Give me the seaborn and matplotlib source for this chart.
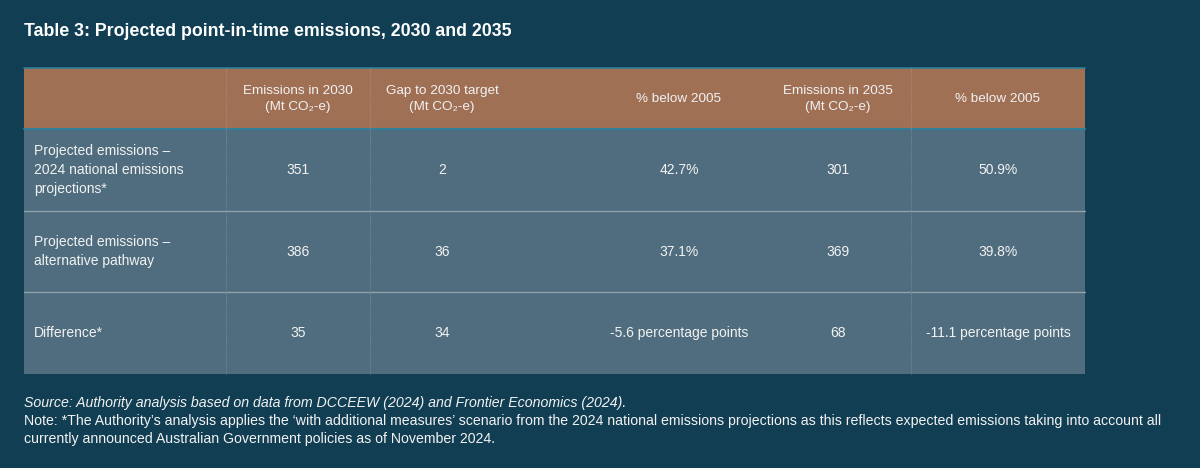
import matplotlib
matplotlib.use("Agg")
import matplotlib.pyplot as plt
import seaborn as sns

# table content
title = "Table 3: Projected point-in-time emissions, 2030 and 2035"
col_headers = ["Emissions in 2030\n(Mt CO\u2082-e)", "Gap to 2030 target\n(Mt CO\u2082-e)",
               "% below 2005", "Emissions in 2035\n(Mt CO\u2082-e)", "% below 2005"]
row_labels = ["Projected emissions \u2013\n2024 national emissions\nprojections*",
              "Projected emissions \u2013\nalternative pathway",
              "Difference*"]
emis_2030 = [351, 386, 35]
gap_2030 = [2, 36, 34]
below_2005_2030 = ["42.7%", "37.1%", "-5.6 percentage points"]
emis_2035 = [301, 369, 68]
below_2005_2035 = ["50.9%", "39.8%", "-11.1 percentage points"]
source = "Source: Authority analysis based on data from DCCEEW (2024) and Frontier Economics (2024)."
note = ["Note: *The Authority\u2019s analysis applies the \u2018with additional measures\u2019 scenario from the 2024 "
        "national emissions projections as this reflects expected emissions taking into account all",
        "currently announced Australian Government policies as of November 2024."]

sns.set_theme(style="white")
plt.rcParams['font.family'] = ['Liberation Sans', 'DejaVu Sans']

BG = "#113e53"
HEAD = "#a07055"
BODY = "#4f6d7e"
TXT = "#f2f2f2"

fig = plt.figure(figsize=(12, 4.68), dpi=100, facecolor=BG)
ax = fig.add_axes([0, 0, 1, 1])
ax.set_facecolor(BG)
ax.set_xlim(0, 1200)
ax.set_ylim(468, 0)
ax.axis("off")

left, right = 24, 1085
head_top, head_bot = 68, 129
row_edges = [129, 211, 292, 374]
col_x = [298, 442, 679, 838, 998]
vlines = [226, 370, 911]

# header and body backgrounds
ax.barh((head_top + head_bot) / 2, right - left, height=head_bot - head_top, left=left, color=HEAD, linewidth=0)
for i in range(3):
    ax.barh((row_edges[i] + row_edges[i + 1]) / 2, right - left, height=row_edges[i + 1] - row_edges[i],
            left=left, color=BODY, linewidth=0)

# grid lines
ax.plot([left, right], [head_top, head_top], color="#2f7f98", lw=1.2)
ax.plot([left, right], [head_bot, head_bot], color="#2f7f98", lw=1.5)
for y in row_edges[1:3]:
    ax.plot([left, right], [y, y], color="#8ea3ae", lw=1.0)
for x in vlines:
    ax.plot([x, x], [head_top, head_bot], color="#b08672", lw=0.8, ls=(0, (1, 1)))
    ax.plot([x, x], [head_bot, row_edges[-1]], color="#6f8a99", lw=0.8, ls=(0, (1, 1)))

ax.text(24, 32, title, color="white", fontsize=12.75, fontweight="bold", va="center", ha="left")

for x, h in zip(col_x, col_headers):
    ax.text(x, 99, h, color=TXT, fontsize=9.7, ha="center", va="center", linespacing=1.4)

columns = [emis_2030, gap_2030, below_2005_2030, emis_2035, below_2005_2035]
for i, lab in enumerate(row_labels):
    yc = (row_edges[i] + row_edges[i + 1]) / 2
    ax.text(34, yc, lab, color=TXT, fontsize=10, ha="left", va="center", linespacing=1.42)
    for x, col in zip(col_x, columns):
        ax.text(x, yc, str(col[i]), color=TXT, fontsize=10, ha="center", va="center")

ax.text(24, 403, source, color=TXT, fontsize=10.2, style="italic", ha="left", va="center")
ax.text(24, 421, note[0], color=TXT, fontsize=10.2, ha="left", va="center")
ax.text(24, 439, note[1], color=TXT, fontsize=10.2, ha="left", va="center")

fig.savefig("out.png", dpi=100, facecolor=BG)
